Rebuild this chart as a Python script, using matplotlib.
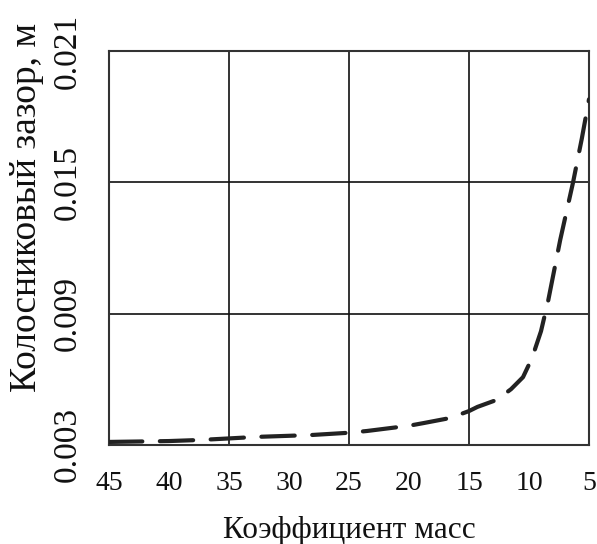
import matplotlib
matplotlib.use("Agg")
import matplotlib.pyplot as plt

plt.rcParams['font.family'] = ['Liberation Serif', 'DejaVu Serif']

# Data
mass_coef = [45, 40, 37.4, 35, 32.7, 30, 28, 25, 23.5, 20, 18.8, 16.6, 15, 14.3, 12.7, 11.5, 10.5, 9.75, 9, 8.4, 7.4, 6.33, 5.6, 5]
gap_m = [0.00314, 0.00318, 0.00323, 0.00330, 0.00337, 0.00342, 0.00346, 0.00356, 0.00364, 0.00388, 0.00400, 0.00423, 0.00455, 0.00474, 0.00506, 0.00555, 0.00610, 0.00697, 0.00820, 0.00960, 0.01237, 0.01500, 0.01700, 0.01880]

x_ticks = [45, 40, 35, 30, 25, 20, 15, 10, 5]
y_ticks = [0.003, 0.009, 0.015, 0.021]
y_tick_labels = ['0.003', '0.009', '0.015', '0.021']
x_grid = [35, 25, 15]
y_grid = [0.009, 0.015]

fig = plt.figure(figsize=(5.97, 5.44), dpi=100)
ax = fig.add_axes([0.1826, 0.182, 0.804, 0.724])

ax.plot(mass_coef, gap_m, color='#222222', lw=3.0, dashes=(8, 4.2),
        dash_capstyle='round', zorder=3)

ax.set_xlim(45, 5)
ax.set_ylim(0.003, 0.021)
ax.set_xticks(x_ticks)
ax.set_xticklabels([str(v) for v in x_ticks])
ax.set_yticks(y_ticks)
ax.set_yticklabels(y_tick_labels, rotation=90, va='center')
ax.tick_params(axis='both', length=0, colors='#111111')
ax.tick_params(axis='x', pad=19, labelsize=20)
ax.tick_params(axis='y', pad=19, labelsize=24)

for xv in x_grid:
    ax.axvline(xv, color='#111111', lw=1.2, zorder=1)
for yv in y_grid:
    ax.axhline(yv, color='#111111', lw=1.2, zorder=1)

for s in ax.spines.values():
    s.set_linewidth(1.5)
    s.set_color('#333333')

ax.set_xlabel('Коэффициент масс', fontsize=22.5, labelpad=14, color='#111111')
ax.set_ylabel('Колосниковый зазор, м', fontsize=27, color='#111111')
ax.yaxis.set_label_coords(-0.135, 0.604)

fig.savefig('out.png', dpi=100)
